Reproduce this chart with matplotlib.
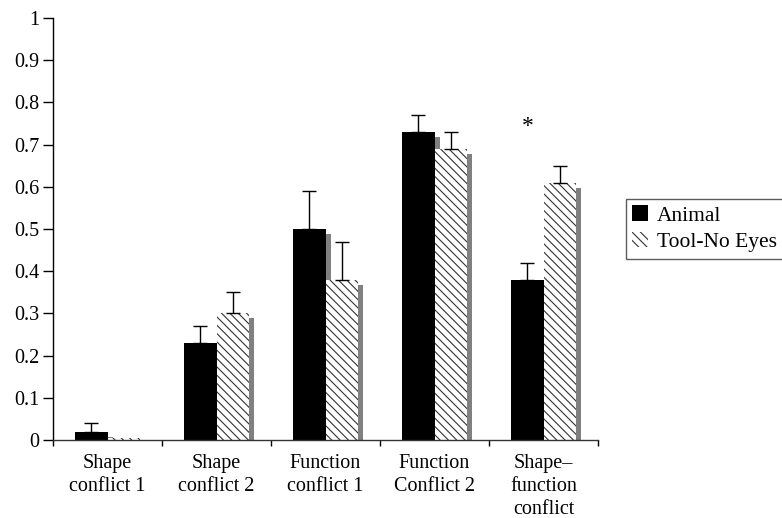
import matplotlib
matplotlib.use("Agg")
import matplotlib.pyplot as plt
import numpy as np

categories = ["Shape\nconflict 1", "Shape\nconflict 2", "Function\nconflict 1",
              "Function\nConflict 2", "Shape\u2013\nfunction\nconflict"]
animal = [0.02, 0.23, 0.50, 0.73, 0.38]
animal_err = [0.02, 0.04, 0.09, 0.04, 0.04]
tool = [0.004, 0.30, 0.38, 0.69, 0.61]
tool_err = [0.0, 0.05, 0.09, 0.04, 0.04]
yticks = [0, 0.1, 0.2, 0.3, 0.4, 0.5, 0.6, 0.7, 0.8, 0.9, 1]
ytick_labels = ["0", "0.1", "0.2", "0.3", "0.4", "0.5", "0.6", "0.7", "0.8", "0.9", "1"]

plt.rcParams['font.family'] = ['Liberation Serif', 'DejaVu Serif']
plt.rcParams['hatch.linewidth'] = 0.8

W, H = 782, 518
fig = plt.figure(figsize=(W / 100, H / 100), dpi=100)
ax = fig.add_axes([53 / W, 78 / H, 545 / W, 422 / H])

x = np.arange(len(categories)) + 0.5
w = 0.294
dx = 0.046
dy = 0.012

xa = x - w / 2
xt = x + w / 2

# shadows
for xs, vals in ((xa, animal), (xt, tool)):
    for xi, v in zip(xs, vals):
        if v > dy:
            ax.bar(xi + dx, v - dy, w, color='#808080', linewidth=0, zorder=1)

ax.bar(xa, animal, w, color='black', linewidth=0, zorder=2, label='Animal')
ax.bar(xt, tool, w, facecolor='white', edgecolor='#333333', linewidth=0,
       hatch='\\\\\\\\', zorder=2, label='Tool-No Eyes')

ax.errorbar(xa, animal, yerr=[np.zeros(len(animal)), animal_err], fmt='none',
            ecolor='black', elinewidth=1.0, capsize=4.7, capthick=1.0, zorder=3)
te = np.array(tool_err)
mask = te > 0
ax.errorbar(xt[mask], np.array(tool)[mask], yerr=[np.zeros(mask.sum()), te[mask]],
            fmt='none', ecolor='black', elinewidth=1.0, capsize=4.7, capthick=1.0, zorder=3)

ax.text(xa[4], 0.742, '*', ha='center', va='center', fontsize=17)

ax.set_xlim(0, 5)
ax.set_ylim(0, 1)
ax.set_yticks(yticks)
ax.set_yticklabels(ytick_labels, fontsize=14.5)
ax.set_xticks(np.arange(0, 6))
ax.set_xticklabels([])
ax.set_xticks(x, minor=True)
ax.set_xticklabels(categories, minor=True, fontsize=14.5, linespacing=1.3)
ax.tick_params(axis='x', which='minor', length=0, pad=10)
ax.tick_params(axis='x', which='major', length=4.3, width=1, direction='out')
ax.tick_params(axis='y', length=7, width=1, direction='out', pad=3)
for s in ('top', 'right'):
    ax.spines[s].set_visible(False)
ax.spines['left'].set_linewidth(1)
ax.spines['bottom'].set_linewidth(1)
ax.spines['bottom'].set_color('#333333')

leg = fig.legend(loc='upper left', bbox_to_anchor=(626 / W, 1 - 199 / H),
                 fontsize=15.5, frameon=True, fancybox=False, edgecolor='#333333',
                 handlelength=0.7, handleheight=0.7, handletextpad=0.45,
                 borderpad=0.3, labelspacing=0.3, borderaxespad=0)
leg.get_frame().set_linewidth(1)

fig.savefig('out.png', dpi=100)
